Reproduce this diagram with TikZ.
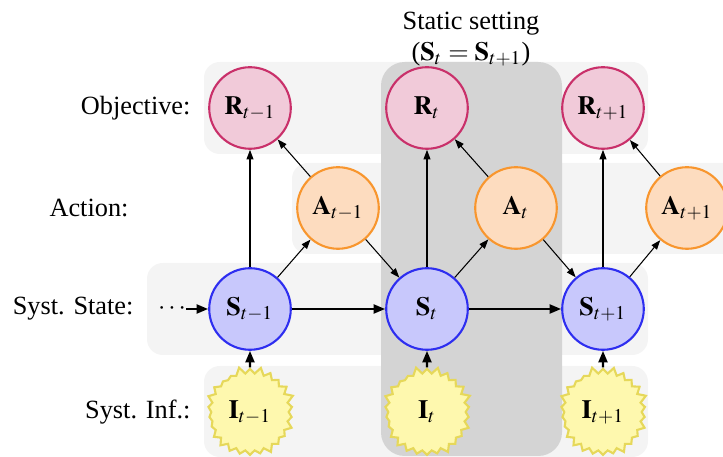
\documentclass[tikz,border=0pt]{standalone}
\usepackage{mathptmx}
\usepackage{fontspec}
\setmainfont{Liberation Serif}
\usetikzlibrary{arrows.meta,shapes.symbols}

\definecolor{rowgray}{HTML}{F4F4F4}
\definecolor{colgray}{HTML}{D4D4D4}
\definecolor{objfill}{HTML}{F1CAD9}
\definecolor{objdraw}{HTML}{C9306A}
\definecolor{actfill}{HTML}{FDDCBF}
\definecolor{actdraw}{HTML}{F8962E}
\definecolor{statefill}{HTML}{C8C8FC}
\definecolor{statedraw}{HTML}{2E2EF0}
\definecolor{inffill}{HTML}{FEF8AE}
\definecolor{infdraw}{HTML}{E6D85A}

\begin{document}
\begin{tikzpicture}[x=0.38pt,y=0.38pt,yscale=-1,
  rowbg/.style={fill=rowgray,rounded corners=6pt},
  var/.style={circle,minimum size=31pt,inner sep=0pt,line width=0.8pt},
  objnode/.style={var,draw=objdraw,fill=objfill},
  actnode/.style={var,draw=actdraw,fill=actfill},
  statenode/.style={var,draw=statedraw,fill=statefill},
  infnode/.style={starburst,starburst points=26,starburst point height=2.8pt,
    random starburst=5,minimum size=35pt,inner sep=0pt,line width=0.8pt,
    draw=infdraw,fill=inffill},
  smallarrow/.style={-{Triangle[length=3.6pt,width=2.6pt]},line width=0.4pt},
  bigarrow/.style={-{Triangle[length=4.4pt,width=3.4pt]},line width=0.9pt},
  rowlabel/.style={anchor=east,inner sep=0pt}]
\useasboundingbox (0,0) rectangle (723,457);

%Rows
\fill[rowbg] (204,62) rectangle (648,154) ;
\fill[rowbg] (292,163) rectangle (760,254) ;
\fill[rowbg] (147,263) rectangle (648,355) ;
\fill[rowbg] (204,366) rectangle (648,457) ;
%Static column
\fill[colgray,rounded corners=9pt] (381,62) rectangle (562,456) ;

% Text Node
\node[align=center,inner sep=0pt] (title) at (471,39) {Static setting\\($\mathbf{S}_t=\mathbf{S}_{t+1}$)};
% Row labels
\node[rowlabel] (objlbl) at (191,108) {Objective:};
\node[rowlabel] (actlbl) at (129,208) {Action:};
\node[rowlabel] (statelbl) at (134,309) {Syst. State:};
\node[rowlabel] (inflbl) at (191,412) {Syst. Inf.:};

% Objective
\node[objnode] (R0) at (250,108) {$\mathbf{R}_{t-1}$};
\node[objnode] (R1) at (427,108) {$\mathbf{R}_{t}$};
\node[objnode] (R2) at (603,108) {$\mathbf{R}_{t+1}$};
% Action
\node[actnode] (A0) at (338,208) {$\mathbf{A}_{t-1}$};
\node[actnode] (A1) at (516,208) {$\mathbf{A}_{t}$};
\node[actnode] (A2) at (687,208) {$\mathbf{A}_{t+1}$};
% State
\node[inner sep=0pt] (dots) at (172,309) {$\cdots$};
\node[statenode] (S0) at (250,309) {$\mathbf{S}_{t-1}$};
\node[statenode] (S1) at (427,309) {$\mathbf{S}_{t}$};
\node[statenode] (S2) at (603,309) {$\mathbf{S}_{t+1}$};
% Information
\node[infnode] (I0) at (250,412) {$\mathbf{I}_{t-1}$};
\node[infnode] (I1) at (427,412) {$\mathbf{I}_{t}$};
\node[infnode] (I2) at (603,412) {$\mathbf{I}_{t+1}$};

%Arrows
\draw[smallarrow] (S0) -- (R0) ;
\draw[smallarrow] (S1) -- (R1) ;
\draw[smallarrow] (S2) -- (R2) ;
\draw[smallarrow] (S0) -- (A0) ;
\draw[smallarrow] (S1) -- (A1) ;
\draw[smallarrow] (S2) -- (A2) ;
\draw[smallarrow] (A0) -- (R0) ;
\draw[smallarrow] (A1) -- (R1) ;
\draw[smallarrow] (A2) -- (R2) ;
\draw[smallarrow] (A0) -- (S1) ;
\draw[smallarrow] (A1) -- (S2) ;
\draw[bigarrow] (dots) -- (S0) ;
\draw[bigarrow] (S0) -- (S1) ;
\draw[bigarrow] (S1) -- (S2) ;
\draw[bigarrow] (I0) -- (S0) ;
\draw[bigarrow] (I1) -- (S1) ;
\draw[bigarrow] (I2) -- (S2) ;

\end{tikzpicture}
\end{document}
